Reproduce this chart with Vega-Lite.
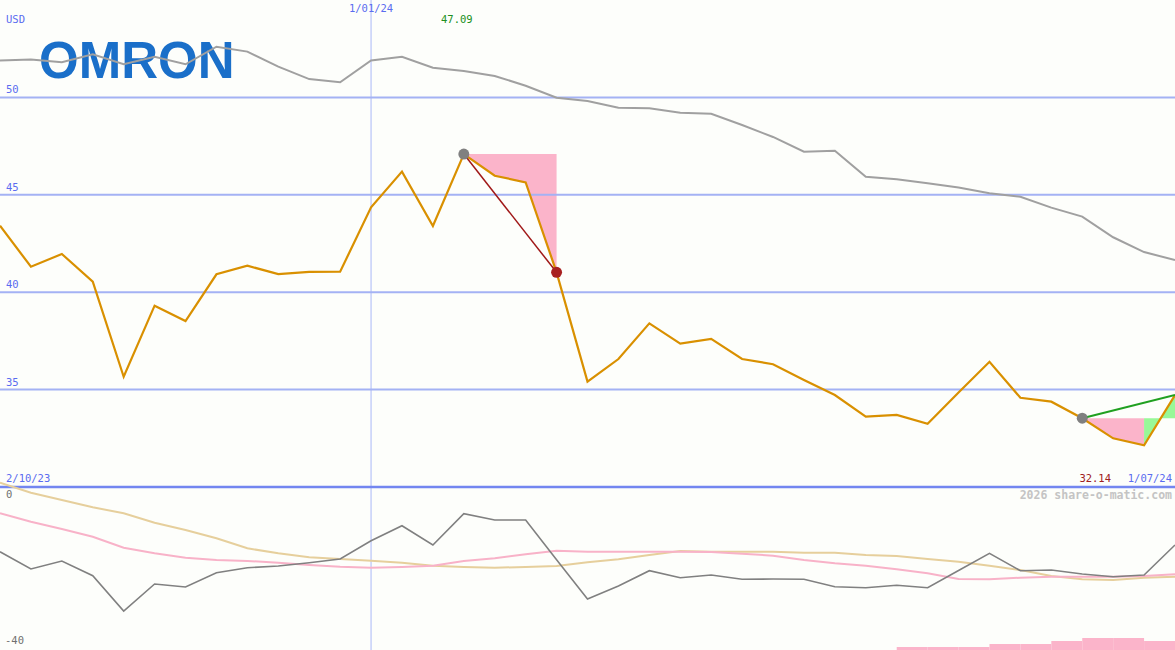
{
  "$schema": "https://vega.github.io/schema/vega-lite/v6.json",
  "width": 1175,
  "height": 650,
  "padding": 0,
  "autosize": {"type": "none"},
  "background": "#fdfefb",
  "config": {"view": {"stroke": null}},
  "datasets": {
    "w": [
      {"idx":0,"price":43.41,"cmp":51.90,"mom":-15.88,"ma1":-6.45,"ma2":1.06},
      {"idx":1,"price":41.31,"cmp":51.94,"mom":-20.12,"ma1":-8.52,"ma2":-1.40},
      {"idx":2,"price":41.96,"cmp":51.80,"mom":-18.16,"ma1":-10.31,"ma2":-3.19},
      {"idx":3,"price":40.54,"cmp":52.21,"mom":-21.77,"ma1":-12.20,"ma2":-4.98},
      {"idx":4,"price":35.66,"cmp":51.70,"mom":-30.43,"ma1":-14.90,"ma2":-6.45},
      {"idx":5,"price":39.31,"cmp":52.09,"mom":-23.80,"ma1":-16.27,"ma2":-8.76},
      {"idx":6,"price":38.52,"cmp":51.70,"mom":-24.54,"ma1":-17.35,"ma2":-10.55},
      {"idx":7,"price":40.92,"cmp":52.60,"mom":-21.03,"ma1":-17.91,"ma2":-12.59},
      {"idx":8,"price":41.36,"cmp":52.35,"mom":-19.80,"ma1":-18.16,"ma2":-15.04},
      {"idx":9,"price":40.93,"cmp":51.58,"mom":-19.39,"ma1":-18.58,"ma2":-16.27},
      {"idx":10,"price":41.04,"cmp":50.94,"mom":-18.58,"ma1":-19.14,"ma2":-17.25},
      {"idx":11,"price":41.05,"cmp":50.78,"mom":-17.67,"ma1":-19.56,"ma2":-17.67},
      {"idx":12,"price":44.36,"cmp":51.90,"mom":-13.18,"ma1":-19.80,"ma2":-18.09},
      {"idx":13,"price":46.19,"cmp":52.09,"mom":-9.50,"ma1":-19.63,"ma2":-18.58},
      {"idx":14,"price":43.40,"cmp":51.52,"mom":-14.23,"ma1":-19.31,"ma2":-19.31},
      {"idx":15,"price":47.09,"cmp":51.36,"mom":-6.55,"ma1":-18.16,"ma2":-19.63},
      {"idx":16,"price":45.98,"cmp":51.10,"mom":-8.10,"ma1":-17.50,"ma2":-19.80},
      {"idx":17,"price":45.64,"cmp":50.60,"mom":-8.10,"ma1":-16.52,"ma2":-19.63},
      {"idx":18,"price":41.02,"cmp":49.98,"mom":-17.84,"ma1":-15.63,"ma2":-19.39},
      {"idx":19,"price":35.41,"cmp":49.82,"mom":-27.48,"ma1":-15.88,"ma2":-18.48},
      {"idx":20,"price":36.57,"cmp":49.47,"mom":-24.29,"ma1":-15.88,"ma2":-17.74},
      {"idx":21,"price":38.40,"cmp":49.44,"mom":-20.54,"ma1":-15.88,"ma2":-16.69},
      {"idx":22,"price":37.36,"cmp":49.21,"mom":-22.26,"ma1":-15.88,"ma2":-15.71},
      {"idx":23,"price":37.60,"cmp":49.16,"mom":-21.60,"ma1":-15.95,"ma2":-15.88},
      {"idx":24,"price":36.57,"cmp":48.58,"mom":-22.65,"ma1":-16.37,"ma2":-15.88},
      {"idx":25,"price":36.30,"cmp":47.97,"mom":-22.58,"ma1":-16.86,"ma2":-15.88},
      {"idx":26,"price":35.49,"cmp":47.21,"mom":-22.65,"ma1":-17.91,"ma2":-16.12},
      {"idx":27,"price":34.72,"cmp":47.26,"mom":-24.47,"ma1":-18.72,"ma2":-16.12},
      {"idx":28,"price":33.61,"cmp":45.93,"mom":-24.71,"ma1":-19.31,"ma2":-16.69},
      {"idx":29,"price":33.70,"cmp":45.80,"mom":-24.12,"ma1":-20.20,"ma2":-16.93},
      {"idx":30,"price":33.25,"cmp":45.59,"mom":-24.71,"ma1":-21.18,"ma2":-17.67},
      {"idx":31,"price":34.85,"cmp":45.38,"mom":-20.49,"ma1":-22.58,"ma2":-18.33},
      {"idx":32,"price":36.43,"cmp":45.08,"mom":-16.27,"ma1":-22.65,"ma2":-19.31},
      {"idx":33,"price":34.58,"cmp":44.90,"mom":-20.54,"ma1":-22.26,"ma2":-20.37},
      {"idx":34,"price":34.38,"cmp":44.34,"mom":-20.37,"ma1":-22.01,"ma2":-21.84},
      {"idx":35,"price":33.53,"cmp":43.88,"mom":-21.35,"ma1":-22.01,"ma2":-22.65},
      {"idx":36,"price":32.50,"cmp":42.82,"mom":-22.01,"ma1":-22.01,"ma2":-22.82},
      {"idx":37,"price":32.14,"cmp":42.06,"mom":-21.60,"ma1":-21.84,"ma2":-22.26},
      {"idx":38,"price":34.72,"cmp":41.65,"mom":-14.23,"ma1":-21.42,"ma2":-22.01}
    ],
    "grid": [
      {"idx":0,"end":38,"v":35,"t":"35"},
      {"idx":0,"end":38,"v":40,"t":"40"},
      {"idx":0,"end":38,"v":45,"t":"45"},
      {"idx":0,"end":38,"v":50,"t":"50"}
    ],
    "fall": [
      {"idx":15,"lvl":47.09,"price":47.09},
      {"idx":16,"lvl":47.09,"price":45.98},
      {"idx":17,"lvl":47.09,"price":45.64},
      {"idx":18,"lvl":47.09,"price":41.02}
    ],
    "pinkR": [
      {"idx":35,"lvl":33.53,"price":33.53},
      {"idx":36,"lvl":33.53,"price":32.50},
      {"idx":37,"lvl":33.53,"price":32.14}
    ],
    "greenR": [
      {"idx":37,"lvl":33.53,"price":32.14},
      {"idx":38,"lvl":33.53,"price":34.72}
    ],
    "vol": [
      {"idx":29,"next":30,"v":-39.26},
      {"idx":30,"next":31,"v":-39.26},
      {"idx":31,"next":32,"v":-39.26},
      {"idx":32,"next":33,"v":-38.53},
      {"idx":33,"next":34,"v":-38.53},
      {"idx":34,"next":35,"v":-37.79},
      {"idx":35,"next":36,"v":-37.06},
      {"idx":36,"next":37,"v":-37.06},
      {"idx":37,"next":38,"v":-37.79}
    ]
  },
  "encoding": {
    "x": {"field": "idx", "type": "quantitative", "scale": {"domain": [0, 38], "nice": false, "zero": false}, "axis": null}
  },
  "layer": [
    {
      "layer": [
        {
          "data": {"values": [{"idx": 12}]},
          "mark": {"type": "rule", "color": "#aab8f8", "strokeWidth": 1},
          "encoding": {}
        },
        {
          "data": {"values": [{"idx": 0, "price": 51.0, "t": "OMRON"}]},
          "mark": {"type": "text", "font": "Liberation Sans", "fontWeight": "bold", "fontSize": 51, "color": "#1a6fc9", "align": "left", "baseline": "alphabetic", "dx": 39},
          "encoding": {
            "y": {"field": "price", "type": "quantitative", "scale": {"domain": [30, 55], "range": [487, 0], "nice": false, "zero": false}, "axis": null},
            "text": {"field": "t"}
          }
        },
        {
          "data": {"name": "fall"},
          "mark": {"type": "area", "color": "#fbb4ca", "opacity": 1},
          "encoding": {
            "y": {"field": "lvl", "type": "quantitative", "scale": {"domain": [30, 55], "range": [487, 0], "nice": false, "zero": false}, "axis": null},
            "y2": {"field": "price"}
          }
        },
        {
          "data": {"name": "pinkR"},
          "mark": {"type": "area", "color": "#fbb4ca", "opacity": 1},
          "encoding": {
            "y": {"field": "lvl", "type": "quantitative", "scale": {"domain": [30, 55], "range": [487, 0], "nice": false, "zero": false}, "axis": null},
            "y2": {"field": "price"}
          }
        },
        {
          "data": {"name": "greenR"},
          "mark": {"type": "area", "color": "#98f898", "opacity": 1},
          "encoding": {
            "y": {"field": "lvl", "type": "quantitative", "scale": {"domain": [30, 55], "range": [487, 0], "nice": false, "zero": false}, "axis": null},
            "y2": {"field": "price"}
          }
        },
        {
          "data": {"name": "grid"},
          "mark": {"type": "rule", "color": "#a4b2f4", "strokeWidth": 2},
          "encoding": {
            "x2": {"field": "end"},
            "y": {"field": "v", "type": "quantitative", "scale": {"domain": [30, 55], "range": [487, 0], "nice": false, "zero": false}, "axis": null}
          }
        },
        {
          "data": {"values": [{"idx": 0, "end": 38, "v": 30}]},
          "mark": {"type": "rule", "color": "#7386f0", "strokeWidth": 2.5},
          "encoding": {
            "x2": {"field": "end"},
            "y": {"field": "v", "type": "quantitative", "scale": {"domain": [30, 55], "range": [487, 0], "nice": false, "zero": false}, "axis": null}
          }
        },
        {
          "data": {"name": "w"},
          "mark": {"type": "line", "color": "#a0a0a0", "strokeWidth": 2},
          "encoding": {
            "y": {"field": "cmp", "type": "quantitative", "scale": {"domain": [30, 55], "range": [487, 0], "nice": false, "zero": false}, "axis": null}
          }
        },
        {
          "data": {"name": "w"},
          "mark": {"type": "line", "color": "#d99000", "strokeWidth": 2.2},
          "encoding": {
            "y": {"field": "price", "type": "quantitative", "scale": {"domain": [30, 55], "range": [487, 0], "nice": false, "zero": false}, "axis": null}
          }
        },
        {
          "data": {"values": [{"idx": 15, "price": 47.09}, {"idx": 18, "price": 41.02}]},
          "mark": {"type": "line", "color": "#a01818", "strokeWidth": 1.5},
          "encoding": {
            "y": {"field": "price", "type": "quantitative", "scale": {"domain": [30, 55], "range": [487, 0], "nice": false, "zero": false}, "axis": null}
          }
        },
        {
          "data": {"values": [{"idx": 35, "price": 33.53}, {"idx": 38, "price": 34.72}]},
          "mark": {"type": "line", "color": "#20a020", "strokeWidth": 2},
          "encoding": {
            "y": {"field": "price", "type": "quantitative", "scale": {"domain": [30, 55], "range": [487, 0], "nice": false, "zero": false}, "axis": null}
          }
        },
        {
          "data": {"values": [{"idx": 15, "price": 47.09, "kind": "start"}, {"idx": 18, "price": 41.02, "kind": "end"}, {"idx": 35, "price": 33.53, "kind": "start"}]},
          "mark": {"type": "circle", "size": 120, "opacity": 1},
          "encoding": {
            "y": {"field": "price", "type": "quantitative", "scale": {"domain": [30, 55], "range": [487, 0], "nice": false, "zero": false}, "axis": null},
            "color": {"field": "kind", "type": "nominal", "scale": {"domain": ["start", "end"], "range": ["#808080", "#a82020"]}, "legend": null}
          }
        },
        {
          "data": {"name": "grid"},
          "mark": {"type": "text", "font": "DejaVu Sans Mono", "fontSize": 10.5, "color": "#5a6cf0", "align": "left", "baseline": "middle", "dx": 6, "dy": -7},
          "encoding": {
            "y": {"field": "v", "type": "quantitative", "scale": {"domain": [30, 55], "range": [487, 0], "nice": false, "zero": false}, "axis": null},
            "text": {"field": "t"}
          }
        },
        {
          "data": {"values": [{"idx": 0, "price": 53.97, "t": "USD"}]},
          "mark": {"type": "text", "font": "DejaVu Sans Mono", "fontSize": 10.5, "color": "#5a6cf0", "align": "left", "baseline": "middle", "dx": 6},
          "encoding": {
            "y": {"field": "price", "type": "quantitative", "scale": {"domain": [30, 55], "range": [487, 0], "nice": false, "zero": false}, "axis": null},
            "text": {"field": "t"}
          }
        },
        {
          "data": {"values": [{"idx": 0, "price": 30, "t": "2/10/23"}]},
          "mark": {"type": "text", "font": "DejaVu Sans Mono", "fontSize": 10.5, "color": "#5a6cf0", "align": "left", "baseline": "bottom", "dx": 6, "dy": -3},
          "encoding": {
            "y": {"field": "price", "type": "quantitative", "scale": {"domain": [30, 55], "range": [487, 0], "nice": false, "zero": false}, "axis": null},
            "text": {"field": "t"}
          }
        },
        {
          "data": {"values": [{"idx": 38, "price": 30, "t": "1/07/24"}]},
          "mark": {"type": "text", "font": "DejaVu Sans Mono", "fontSize": 10.5, "color": "#5a6cf0", "align": "right", "baseline": "bottom", "dx": -3, "dy": -3},
          "encoding": {
            "y": {"field": "price", "type": "quantitative", "scale": {"domain": [30, 55], "range": [487, 0], "nice": false, "zero": false}, "axis": null},
            "text": {"field": "t"}
          }
        },
        {
          "data": {"values": [{"idx": 38, "price": 30, "t": "32.14"}]},
          "mark": {"type": "text", "font": "DejaVu Sans Mono", "fontSize": 10.5, "color": "#a02020", "align": "right", "baseline": "bottom", "dx": -64, "dy": -3},
          "encoding": {
            "y": {"field": "price", "type": "quantitative", "scale": {"domain": [30, 55], "range": [487, 0], "nice": false, "zero": false}, "axis": null},
            "text": {"field": "t"}
          }
        },
        {
          "data": {"values": [{"idx": 12, "price": 54.54, "t": "1/01/24"}]},
          "mark": {"type": "text", "font": "DejaVu Sans Mono", "fontSize": 10.5, "color": "#5a6cf0", "align": "center", "baseline": "middle"},
          "encoding": {
            "y": {"field": "price", "type": "quantitative", "scale": {"domain": [30, 55], "range": [487, 0], "nice": false, "zero": false}, "axis": null},
            "text": {"field": "t"}
          }
        },
        {
          "data": {"values": [{"idx": 15, "price": 53.97, "t": "47.09"}]},
          "mark": {"type": "text", "font": "DejaVu Sans Mono", "fontSize": 10.5, "color": "#209020", "align": "center", "baseline": "middle", "dx": -7},
          "encoding": {
            "y": {"field": "price", "type": "quantitative", "scale": {"domain": [30, 55], "range": [487, 0], "nice": false, "zero": false}, "axis": null},
            "text": {"field": "t"}
          }
        }
      ]
    },
    {
      "layer": [
        {
          "data": {"name": "vol"},
          "mark": {"type": "rect", "color": "#fbb4ca"},
          "encoding": {
            "x2": {"field": "next"},
            "y": {"field": "v", "type": "quantitative", "scale": {"domain": [-40, 0], "range": [650, 487], "nice": false, "zero": false}, "axis": null},
            "y2": {"datum": -40}
          }
        },
        {
          "data": {"name": "w"},
          "mark": {"type": "line", "color": "#e6cf9c", "strokeWidth": 2},
          "encoding": {
            "y": {"field": "ma2", "type": "quantitative", "scale": {"domain": [-40, 0], "range": [650, 487], "nice": false, "zero": false}, "axis": null}
          }
        },
        {
          "data": {"name": "w"},
          "mark": {"type": "line", "color": "#f8b2c8", "strokeWidth": 2},
          "encoding": {
            "y": {"field": "ma1", "type": "quantitative", "scale": {"domain": [-40, 0], "range": [650, 487], "nice": false, "zero": false}, "axis": null}
          }
        },
        {
          "data": {"name": "w"},
          "mark": {"type": "line", "color": "#808080", "strokeWidth": 1.6},
          "encoding": {
            "y": {"field": "mom", "type": "quantitative", "scale": {"domain": [-40, 0], "range": [650, 487], "nice": false, "zero": false}, "axis": null}
          }
        },
        {
          "data": {"values": [{"idx": 0, "v": 0, "t": "0"}]},
          "mark": {"type": "text", "font": "DejaVu Sans Mono", "fontSize": 10.5, "color": "#707070", "align": "left", "baseline": "middle", "dx": 6, "dy": 8},
          "encoding": {
            "y": {"field": "v", "type": "quantitative", "scale": {"domain": [-40, 0], "range": [650, 487], "nice": false, "zero": false}, "axis": null},
            "text": {"field": "t"}
          }
        },
        {
          "data": {"values": [{"idx": 0, "v": -40, "t": "-40"}]},
          "mark": {"type": "text", "font": "DejaVu Sans Mono", "fontSize": 10.5, "color": "#707070", "align": "left", "baseline": "middle", "dx": 5, "dy": -9},
          "encoding": {
            "y": {"field": "v", "type": "quantitative", "scale": {"domain": [-40, 0], "range": [650, 487], "nice": false, "zero": false}, "axis": null},
            "text": {"field": "t"}
          }
        },
        {
          "data": {"values": [{"idx": 38, "v": 0, "t": "2026 share-o-matic.com"}]},
          "mark": {"type": "text", "font": "DejaVu Sans Mono", "fontSize": 11.5, "fontWeight": "bold", "color": "#c4c4c4", "align": "right", "baseline": "middle", "dx": -3, "dy": 9},
          "encoding": {
            "y": {"field": "v", "type": "quantitative", "scale": {"domain": [-40, 0], "range": [650, 487], "nice": false, "zero": false}, "axis": null},
            "text": {"field": "t"}
          }
        }
      ]
    }
  ],
  "resolve": {"scale": {"y": "independent"}}
}
